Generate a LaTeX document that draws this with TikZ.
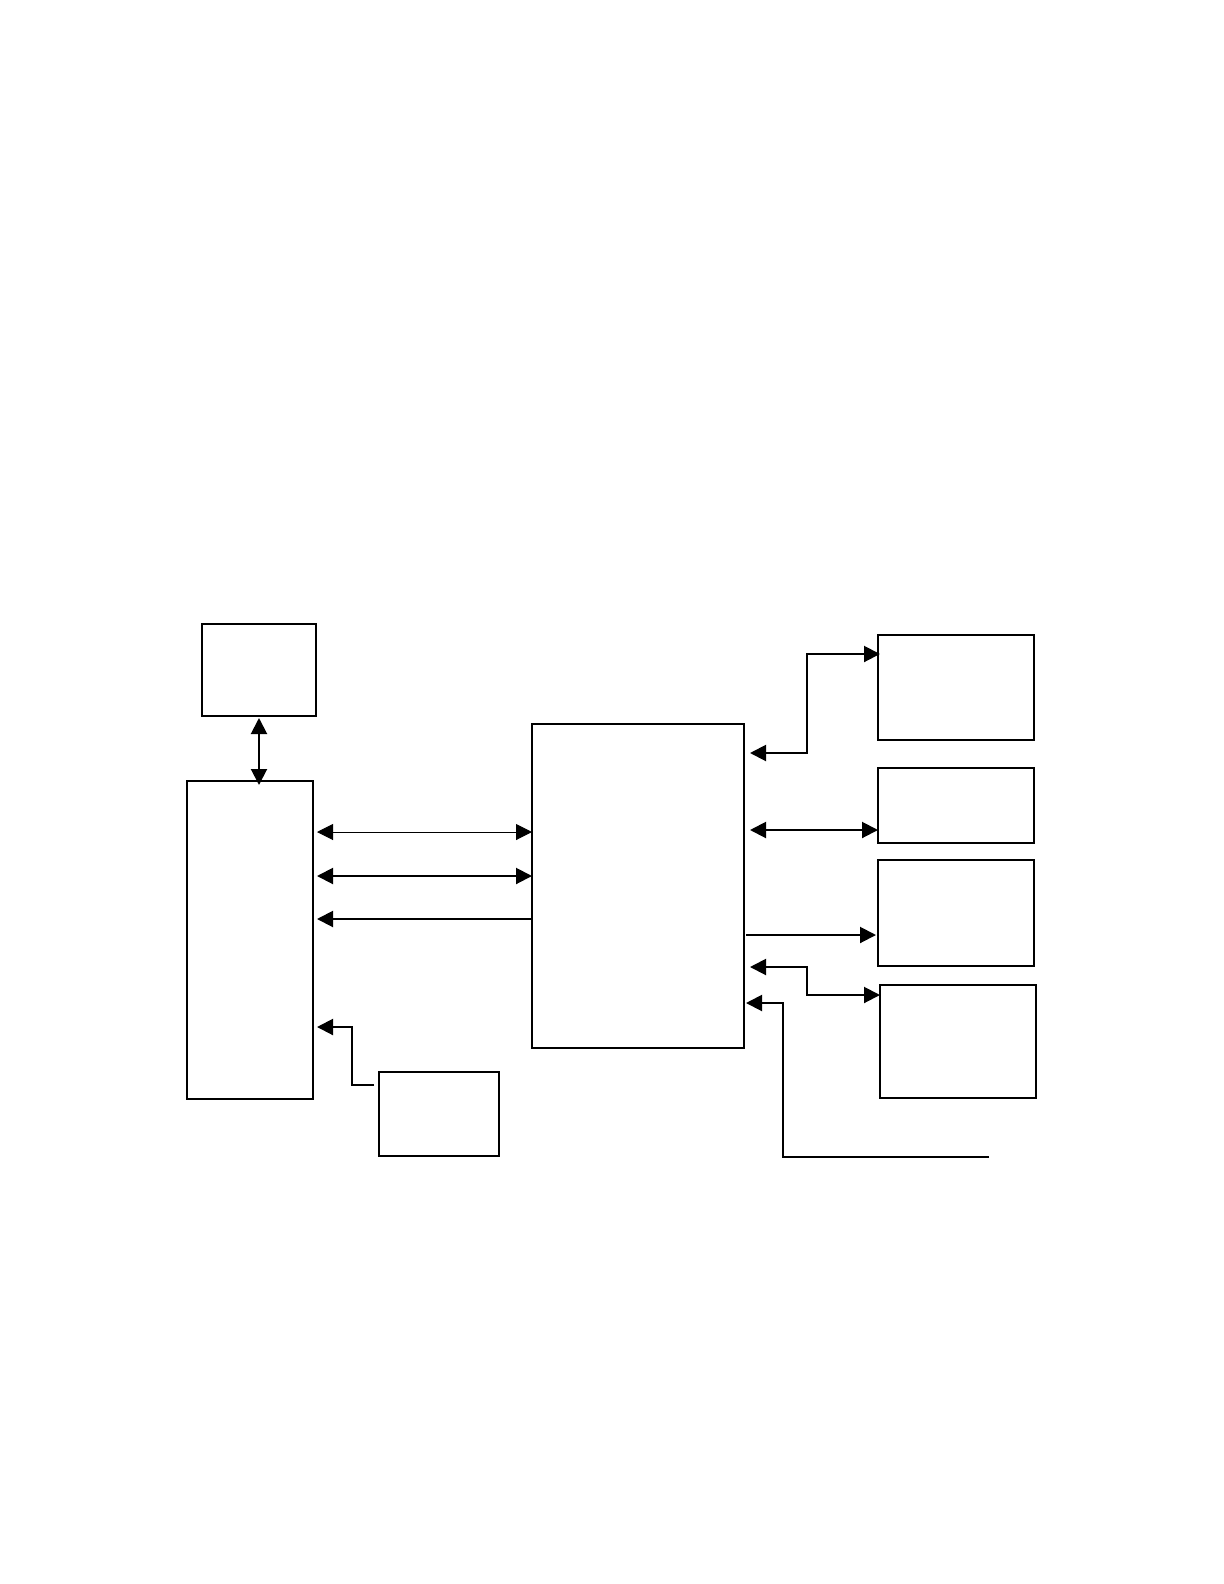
\documentclass[tikz,border=0pt]{standalone}
\usetikzlibrary{arrows.meta}
\begin{document}
\begin{tikzpicture}[x=0.5pt,y=-0.5pt,
  box/.style={draw,line width=0.9pt,rectangle,inner sep=0pt,outer sep=0pt},
  link/.style={line width=1pt,-{Triangle[length=8pt,width=8pt]}},
  link2/.style={line width=1pt,{Triangle[length=8pt,width=8pt]}-{Triangle[length=8pt,width=8pt]}},
  thinlink2/.style={line width=0.5pt,{Triangle[length=8pt,width=8pt]}-{Triangle[length=8pt,width=8pt]}}]
\useasboundingbox (0,0) rectangle (1224,1584);
% boxes
\node[box,minimum width=57pt,minimum height=46pt] (A) at (259,670) {};
\node[box,minimum width=63pt,minimum height=159pt] (B) at (250,940) {};
\node[box,minimum width=106pt,minimum height=162pt] (C) at (638,886) {};
\node[box,minimum width=78pt,minimum height=52.5pt] (R1) at (956,687.5) {};
\node[box,minimum width=78pt,minimum height=37.5pt] (R2) at (956,805.5) {};
\node[box,minimum width=78pt,minimum height=53pt] (R3) at (956,913) {};
\node[box,minimum width=78pt,minimum height=56.5pt] (R4) at (958,1041.5) {};
\node[box,minimum width=60pt,minimum height=42pt] (D) at (439,1114) {};
% helper levels
\coordinate (l1) at (0,832);
\coordinate (l2) at (0,876);
\coordinate (l3) at (0,919);
\coordinate (u1) at (0,753);
\coordinate (u2) at (0,654);
\coordinate (ux) at (807,0);
\coordinate (m2) at (0,830);
\coordinate (m3) at (0,935);
\coordinate (d1) at (0,967);
\coordinate (d2) at (0,995);
\coordinate (e1) at (0,1003);
\coordinate (ex) at (783,0);
\coordinate (efree) at (989,1157);
\coordinate (f1) at (0,1085);
\coordinate (f2) at (0,1027);
\coordinate (fx) at (352,0);
% connectors
\draw[link2,shorten <=1pt,shorten >=-2pt] (A.south) -- (A.south |- B.north);
\draw[thinlink2,shorten <=2pt] (B.east |- l1) -- (C.west |- l1);
\draw[link2,shorten <=2pt] (B.east |- l2) -- (C.west |- l2);
\draw[link,shorten >=2pt] (C.west |- l3) -- (B.east |- l3);
\draw[link2,shorten <=3pt,shorten >=-1pt] (C.east |- u1) -| (ux |- u2) -- (R1.west |- u2);
\draw[link2,shorten <=3pt] (C.east |- m2) -- (R2.west |- m2);
\draw[link,shorten <=1pt,shorten >=1pt] (C.east |- m3) -- (R3.west |- m3);
\draw[link2,shorten <=3pt] (C.east |- d1) -| (ux |- d2) -- (R4.west |- d2);
\draw[link,shorten >=1pt] (efree) -| (ex |- e1) -- (C.east |- e1);
\draw[link,shorten <=2.5pt,shorten >=2pt] (D.west |- f1) -| (fx |- f2) -- (B.east |- f2);
\end{tikzpicture}
\end{document}
